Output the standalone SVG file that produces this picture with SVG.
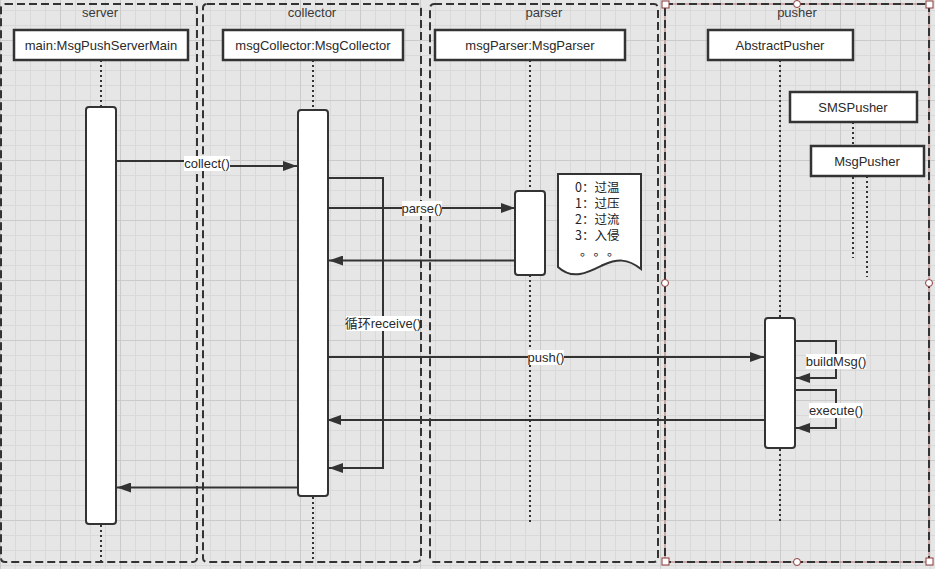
<svg xmlns="http://www.w3.org/2000/svg" width="935" height="569" viewBox="0 0 935 569">
<style>
.lane{fill:none;stroke:#333;stroke-width:2;stroke-dasharray:8 4}
.lt{font-family:"Liberation Sans",Arial,sans-serif;font-size:13px;fill:#3a3a3a;text-anchor:middle}
.box{fill:#fff;stroke:#333;stroke-width:2.5}
.bt{font-family:"Liberation Sans",Arial,sans-serif;font-size:13px;fill:#2a2a2a;text-anchor:middle}
.life{fill:none;stroke:#333;stroke-width:2;stroke-dasharray:2 3}
.act{fill:#fff;stroke:#333;stroke-width:2}
.msg{fill:none;stroke:#333;stroke-width:2}
.lbg{fill:#fff}
.ml{font-family:"Liberation Sans","Noto Sans CJK SC",Arial,sans-serif;font-size:13px;fill:#2a2a2a;text-anchor:middle}
.note{font-family:"Noto Sans CJK SC","Liberation Sans",sans-serif;font-size:12.5px;fill:#222}
.hs{fill:#fff;stroke:#8b3a3a;stroke-width:1}
</style>
<defs>
<pattern id="grid" width="60" height="60" patternUnits="userSpaceOnUse" x="0" y="40">
<rect width="60" height="60" fill="#e6e6e6"/>
<path d="M15.5 0V60M30.5 0V60M45.5 0V60M0 15.5H60M0 30.5H60M0 45.5H60" stroke="#d9d9d9" stroke-width="1"/>
<path d="M0.5 0V60M0 0.5H60" stroke="#cbcbcb" stroke-width="1"/>
</pattern>
<marker id="ah" markerWidth="14" markerHeight="10" refX="14" refY="5" orient="auto" markerUnits="userSpaceOnUse">
<path d="M0,0 L14,5 L0,10 Z" fill="#333"/>
</marker>
</defs>
<rect width="935" height="569" fill="url(#grid)"/>

<g id="lanes">
<g id="lane-server"><rect class="lane" x="1" y="4" width="196" height="558" rx="4"/><text class="lt" x="100" y="17">server</text></g>
<g id="lane-collector"><rect class="lane" x="203" y="4" width="218" height="558" rx="4"/><text class="lt" x="312" y="17">collector</text></g>
<g id="lane-parser"><rect class="lane" x="430" y="4" width="228" height="558" rx="4"/><text class="lt" x="544" y="17">parser</text></g>
<g id="lane-pusher">
<rect x="665" y="4" width="264" height="558" fill="none" stroke="#b07070" stroke-width="1"/>
<rect class="lane" x="665" y="4" width="264" height="558" stroke="#4a3030"/>
<text class="lt" x="797" y="17">pusher</text>
<rect class="hs" x="662" y="1" width="7" height="7"/><rect class="hs" x="926" y="1" width="7" height="7"/>
<rect class="hs" x="662" y="558" width="7" height="7"/><rect class="hs" x="926" y="558" width="7" height="7"/>
<circle class="hs" cx="797" cy="4" r="3.5"/><circle class="hs" cx="797" cy="562" r="3.5"/>
<circle class="hs" cx="665" cy="283" r="3.5"/><circle class="hs" cx="929" cy="283" r="3.5"/>
</g>
</g>

<g id="lifelines">
<path class="life" d="M101 60V107M101 525V562"/>
<path class="life" d="M313 60V110M313 497V562"/>
<path class="life" d="M530 60V191M530 275V522"/>
<path class="life" d="M780 60V318M780 449V521"/>
<path class="life" d="M853 122V258"/>
<path class="life" d="M867 176V277"/>
</g>

<g id="node-main"><rect class="box" x="14" y="30" width="174" height="30"/><text class="bt" x="101" y="50">main:MsgPushServerMain</text><rect class="act" x="86" y="107" width="30" height="417" rx="3"/></g>
<g id="node-collector"><rect class="box" x="223" y="30" width="180" height="30"/><text class="bt" x="313" y="50">msgCollector:MsgCollector</text><rect class="act" x="298" y="110" width="30" height="386" rx="3"/></g>
<g id="node-parser"><rect class="box" x="435" y="30" width="190" height="30"/><text class="bt" x="530" y="50">msgParser:MsgParser</text><rect class="act" x="515" y="191" width="30" height="84" rx="3"/></g>
<g id="node-abstractpusher"><rect class="box" x="708" y="30" width="145" height="30"/><text class="bt" x="780" y="50">AbstractPusher</text><rect class="act" x="765" y="318" width="30" height="130" rx="3"/></g>
<g id="node-smspusher"><rect class="box" x="790" y="92" width="127" height="30"/><text class="bt" x="853" y="112">SMSPusher</text></g>
<g id="node-msgpusher"><rect class="box" x="811" y="146" width="113" height="30"/><text class="bt" x="867" y="166">MsgPusher</text></g>

<g id="node-note">
<path d="M558 174H641V269C627 258 617 259 603 265C589 272 573 281 558 267Z" fill="#fff" stroke="#333" stroke-width="2"/>
<text class="note"><tspan x="575" y="192">0：过温</tspan><tspan x="575" y="208">1：过压</tspan><tspan x="575" y="224">2：过流</tspan><tspan x="575" y="240">3：入侵</tspan><tspan x="580 593.5 607" y="256">。。。</tspan></text>
</g>

<g id="connectors">
<path class="msg" d="M116 161H207V166H297" marker-end="url(#ah)"/>
<path class="msg" d="M328 178H383V468H329" marker-end="url(#ah)"/>
<path class="msg" d="M328 208H515" marker-end="url(#ah)"/>
<path class="msg" d="M515 260.5H329" marker-end="url(#ah)"/>
<path class="msg" d="M328 357H764" marker-end="url(#ah)"/>
<path class="msg" d="M765 420H327" marker-end="url(#ah)"/>
<path class="msg" d="M795 341H836V378H796" marker-end="url(#ah)"/>
<path class="msg" d="M795 390H836V428H796" marker-end="url(#ah)"/>
<path class="msg" d="M298 487.5H117" marker-end="url(#ah)"/>
<rect class="lbg" x="184" y="156" width="46" height="15"/><text class="ml" x="207" y="168">collect()</text>
<rect class="lbg" x="402" y="201" width="40" height="15"/><text class="ml" x="422" y="213">parse()</text>
<rect class="lbg" x="346" y="316" width="74" height="15"/><text class="ml" x="383" y="328">循环receive()</text>
<rect class="lbg" x="528" y="350" width="36" height="15"/><text class="ml" x="546" y="362">push()</text>
<rect class="lbg" x="806" y="354" width="60" height="15"/><text class="ml" x="836" y="366">buildMsg()</text>
<rect class="lbg" x="809" y="403" width="54" height="15"/><text class="ml" x="836" y="415">execute()</text>
</g>
</svg>
